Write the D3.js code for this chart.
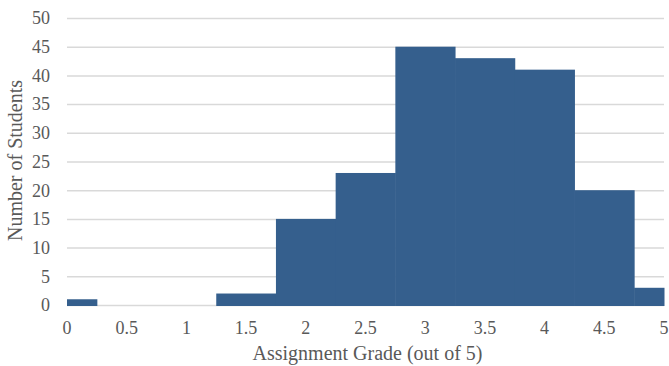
<!DOCTYPE html>
<html>
<head>
<meta charset="utf-8">
<script src="https://cdn.jsdelivr.net/npm/d3@7"></script>
<style>
  body { margin: 0; background: #fff; }
</style>
</head>
<body>
<div id="chart"></div>
<script>
// histogram bins: centre of each bin (width 0.5) and student count
const binCenters = [0, 0.5, 1, 1.5, 2, 2.5, 3, 3.5, 4, 4.5, 5];
const counts = [1, 0, 0, 2, 15, 23, 45, 43, 41, 20, 3];
const xTicks = [0, 0.5, 1, 1.5, 2, 2.5, 3, 3.5, 4, 4.5, 5];
const yTicks = [0, 5, 10, 15, 20, 25, 30, 35, 40, 45, 50];

const canvWidth = 669, canvHeight = 366;
const margin = {top: 18, right: 5, bottom: 61, left: 67};
const width = canvWidth - margin.left - margin.right;
const height = canvHeight - margin.top - margin.bottom;

const svg = d3.select('#chart')
    .append('svg')
    .attr('width', canvWidth)
    .attr('height', canvHeight)
    .append('g')
    .attr('transform', `translate(${margin.left},${margin.top})`);

const xScale = d3.scaleLinear().domain([0, 5]).range([0, width]);
const yScale = d3.scaleLinear().domain([0, 50]).range([height, 0]);

const font = '"Liberation Serif", "Times New Roman", serif';
const textColor = '#595959';

// gridlines
svg.append('g')
    .selectAll('line')
    .data(yTicks)
    .enter()
    .append('line')
    .attr('x1', 0)
    .attr('x2', width)
    .attr('y1', d => yScale(d) + 0.5)
    .attr('y2', d => yScale(d) + 0.5)
    .style('stroke', '#d9d9d9')
    .style('stroke-width', 1.5);

// bars (clipped to the 0..5 range at the ends)
svg.append('g')
    .selectAll('rect')
    .data(binCenters.map((c, i) => ({c: c, v: counts[i]})).filter(d => d.v > 0))
    .enter()
    .append('rect')
    .attr('x', d => xScale(Math.max(0, d.c - 0.25)))
    .attr('width', d => xScale(Math.min(5, d.c + 0.25)) - xScale(Math.max(0, d.c - 0.25)) + 0.5)
    .attr('y', d => yScale(d.v))
    .attr('height', d => yScale(0) - yScale(d.v) + 1)
    .style('fill', '#355f8d');

// y tick labels
svg.append('g')
    .selectAll('text')
    .data(yTicks)
    .enter()
    .append('text')
    .attr('x', -17)
    .attr('y', d => yScale(d))
    .attr('dy', '0.35em')
    .attr('text-anchor', 'end')
    .style('font-family', font)
    .style('font-size', '18px')
    .style('fill', textColor)
    .text(d => d);

// x tick labels
svg.append('g')
    .selectAll('text')
    .data(xTicks)
    .enter()
    .append('text')
    .attr('x', d => xScale(d))
    .attr('y', height + 29)
    .attr('text-anchor', 'middle')
    .style('font-family', font)
    .style('font-size', '18px')
    .style('fill', textColor)
    .text(d => d);

// axis titles
svg.append('text')
    .attr('x', width / 2 + 2)
    .attr('y', height + 55)
    .attr('text-anchor', 'middle')
    .style('font-family', font)
    .style('font-size', '20px')
    .style('fill', textColor)
    .text('Assignment Grade (out of 5)');

svg.append('text')
    .attr('transform', 'rotate(-90)')
    .attr('x', -(height / 2) + 1)
    .attr('y', -45)
    .attr('text-anchor', 'middle')
    .style('font-family', font)
    .style('font-size', '20px')
    .style('fill', textColor)
    .text('Number of Students');
</script>
</body>
</html>
